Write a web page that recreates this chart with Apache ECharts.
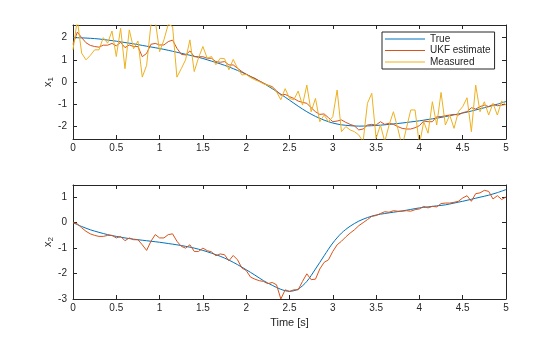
<!DOCTYPE html>
<html>
<head>
<meta charset="utf-8">
<script src="https://cdn.jsdelivr.net/npm/echarts@6/dist/echarts.min.js"></script>
<style>
html,body{margin:0;padding:0;background:#fff;}
#chart{width:560px;height:337px;}
</style>
</head>
<body>
<div id="chart"></div>
<script>
// Sampling grids (seconds)
const tFine = Array.from({length: 101}, (_, i) => +(i * 0.05).toFixed(2));
const tCoarse = Array.from({length: 51}, (_, i) => +(i * 0.1).toFixed(1));

// x1: true state (every 0.1 s)
const x1True = [2.0, 1.99, 1.97, 1.94, 1.89, 1.84, 1.78, 1.72, 1.65, 1.58,
  1.51, 1.43, 1.34, 1.25, 1.16, 1.06, 0.94, 0.82, 0.68, 0.52,
  0.35, 0.15, -0.06, -0.3, -0.55, -0.82, -1.09, -1.34, -1.55, -1.72,
  -1.85, -1.93, -1.97, -1.99, -1.98, -1.96, -1.93, -1.89, -1.85, -1.8,
  -1.75, -1.69, -1.63, -1.56, -1.48, -1.40, -1.31, -1.21, -1.11, -1.0,
  -0.88];

// x1: UKF estimate (every 0.05 s)
const x1Est = [1.7, 2.25, 2.0, 1.77, 1.65, 1.6, 1.57, 1.66, 1.66, 1.74,
  1.63, 1.79, 1.55, 1.67, 1.6, 1.6, 1.14, 1.29, 1.7, 1.74,
  1.67, 1.67, 1.82, 1.89, 1.52, 1.25, 1.22, 1.4, 1.14, 1.14,
  1.14, 1.07, 1.07, 0.92, 0.89, 0.92, 0.77, 0.77, 0.62, 0.47,
  0.35, 0.24, 0.17, 0.05, -0.05, -0.14, -0.21, -0.4, -0.59, -0.56,
  -0.66, -0.74, -0.86, -0.92, -0.96, -1.16, -1.34, -1.46, -1.44, -1.61,
  -1.79, -1.76, -1.71, -1.82, -1.91, -1.98, -2.16, -2.12, -1.94, -1.91,
  -1.94, -1.79, -1.91, -1.86, -1.91, -2.01, -2.09, -2.12, -2.12, -2.06,
  -1.97, -1.76, -1.79, -1.79, -1.56, -1.56, -1.52, -1.49, -1.46, -1.49,
  -1.38, -1.34, -1.16, -1.22, -1.11, -1.04, -1.11, -1.01, -1.07, -1.04,
  -1.01];

// x1: measured (every 0.05 s)
const x1Meas = [1.45, 2.8, 1.3, 1.0, 1.2, 1.45, 1.45, 2.0, 1.75, 2.3,
  1.15, 2.42, 0.6, 2.35, 1.5, 1.85, 0.22, 0.75, 2.6, 2.75,
  1.37, 1.9, 2.6, 2.5, 0.22, 0.6, 1.0, 1.9, 0.47, 1.1,
  1.6, 1.07, 1.15, 0.78, 1.07, 1.05, 0.55, 1.02, 0.62, 0.32,
  0.34, 0.2, 0.1, 0.02, -0.08, -0.15, -0.25, -0.44, -0.8, -0.3,
  -0.74, -0.8, -0.41, -1.04, -0.14, -1.34, -0.74, -1.79, -1.49, -1.79,
  -1.56, -0.36, -2.24, -2.01, -2.16, -2.24, -2.39, -2.69, -0.96, -0.51,
  -2.54, -1.94, -2.69, -1.94, -1.34, -2.09, -2.9, -2.09, -1.26, -1.26,
  -2.84, -1.79, -2.31, -0.89, -1.94, -0.47, -1.94, -1.49, -2.09, -1.34,
  -1.11, -0.71, -2.24, -0.14, -1.34, -0.89, -1.49, -0.96, -1.49, -0.86,
  -1.04];

// x2: true state (every 0.1 s)
const x2True = [0, -0.15, -0.28, -0.38, -0.47, -0.54, -0.6, -0.65, -0.69, -0.73,
  -0.77, -0.82, -0.87, -0.93, -1.0, -1.09, -1.2, -1.32, -1.47, -1.65,
  -1.85, -2.06, -2.28, -2.46, -2.62, -2.7, -2.61, -2.31, -1.82, -1.3,
  -0.8, -0.41, -0.14, 0.06, 0.2, 0.3, 0.36, 0.41, 0.46, 0.52,
  0.58, 0.62, 0.66, 0.7, 0.77, 0.84, 0.92, 1.0, 1.08, 1.18,
  1.3];

// x2: UKF estimate (every 0.05 s)
const x2Est = [0, -0.05, -0.2, -0.34, -0.44, -0.5, -0.54, -0.54, -0.5, -0.5,
  -0.6, -0.54, -0.71, -0.6, -0.67, -0.67, -0.87, -1.09, -0.73, -0.47,
  -0.6, -0.6, -0.47, -0.44, -0.73, -0.93, -1.0, -0.87, -1.13, -1.13,
  -1.0, -1.1, -1.15, -1.3, -1.23, -1.26, -1.5, -1.29, -1.46, -1.78,
  -1.88, -2.14, -2.22, -2.28, -2.31, -2.4, -2.35, -2.44, -3.0, -2.64,
  -2.7, -2.64, -2.64, -2.31, -2.01, -2.24, -2.22, -1.82, -1.56, -1.46,
  -1.13, -0.87, -0.73, -0.56, -0.41, -0.28, -0.12, 0, 0.12, 0.25,
  0.28, 0.36, 0.43, 0.41, 0.47, 0.45, 0.45, 0.47, 0.45, 0.51,
  0.54, 0.64, 0.58, 0.64, 0.62, 0.75, 0.77, 0.77, 0.8, 0.84,
  0.97, 1.06, 0.84, 1.14, 1.17, 1.27, 1.23, 0.93, 1.06, 0.91,
  1.01];

const seriesNames = ['True', 'UKF estimate', 'Measured'];
const colors = ['#0072BD', '#D95319', '#EDB120'];
const xTicks = {min: 0, max: 5, interval: 0.5};
const y1Range = {min: -2.57, max: 2.57};
const y2Range = {min: -3, max: 1.48};

const FONT = '"Liberation Sans", Arial, Helvetica, sans-serif';
const INK = '#262626';

function pairs(t, v) { return v.map((y, i) => [t[i], y]); }

function mkX(grid, pos, labels, name) {
  return {
    type: 'value', gridIndex: grid, position: pos,
    min: xTicks.min, max: xTicks.max, interval: xTicks.interval,
    name: name || '', nameLocation: 'middle', nameGap: 18, nameMoveOverlap: false,
    nameTextStyle: {fontFamily: FONT, fontSize: 11, color: INK},
    axisLine: {show: true, onZero: false, lineStyle: {color: INK, width: 1}},
    axisTick: {show: true, inside: true, length: 4, lineStyle: {color: INK}},
    axisLabel: {show: labels, fontFamily: FONT, fontSize: 10, color: INK, margin: 4},
    splitLine: {show: false}
  };
}
function mkY(grid, pos, labels, range, name, setInterval) {
  const ax = {
    type: 'value', gridIndex: grid, position: pos,
    min: range.min, max: range.max, splitNumber: 5,
    name: name || '', nameLocation: 'middle', nameGap: 18, nameRotate: 90, nameMoveOverlap: false,
    nameTextStyle: {
      fontFamily: FONT, fontSize: 11, color: INK,
      rich: {
        v: {fontFamily: FONT, fontSize: 11, color: INK},
        s: {fontFamily: FONT, fontSize: 8, color: INK, padding: [6, 0, 0, 0]}
      }
    },
    axisLine: {show: true, onZero: false, lineStyle: {color: INK, width: 1}},
    axisTick: {show: true, inside: true, length: 4, lineStyle: {color: INK}},
    axisLabel: {show: labels, fontFamily: FONT, fontSize: 10, color: INK, margin: 6,
      showMinLabel: grid === 1, showMaxLabel: false},
    splitLine: {show: false}
  };
  if (setInterval) ax.interval = 1;
  return ax;
}

const chart = echarts.init(document.getElementById('chart'), null, {renderer: 'canvas'});
const option = {
  animation: false,
  backgroundColor: '#fff',
  grid: [
    {left: 73, top: 25, width: 433, height: 114},
    {left: 73, top: 185, width: 433, height: 114}
  ],
  legend: {
    data: seriesNames,
    orient: 'vertical', left: 382, top: 32,
    backgroundColor: '#fff', borderColor: INK, borderWidth: 1,
    padding: [2, 4, 2, 3], itemGap: 1.5, itemWidth: 40, itemHeight: 10,
    icon: 'path://M0,4.5H40V5.5H0Z',
    textStyle: {fontFamily: FONT, fontSize: 10, color: INK, padding: [0, 0, 0, 0]},
    selectedMode: false
  },
  xAxis: [mkX(0, 'bottom', true), mkX(0, 'top', false), mkX(1, 'bottom', true, 'Time [s]'), mkX(1, 'top', false)],
  yAxis: [
    mkY(0, 'left', true, y1Range, '{v|x}{s|1}', false), mkY(0, 'right', false, y1Range, '', false),
    mkY(1, 'left', true, y2Range, '{v|x}{s|2}', true), mkY(1, 'right', false, y2Range, '', true)
  ],
  series: [
    {name: seriesNames[0], type: 'line', xAxisIndex: 0, yAxisIndex: 0, data: pairs(tCoarse, x1True),
      symbol: 'none', smooth: 0.3, lineStyle: {width: 1, color: colors[0]}, itemStyle: {color: colors[0]}, z: 2},
    {name: seriesNames[1], type: 'line', xAxisIndex: 0, yAxisIndex: 0, data: pairs(tFine, x1Est),
      symbol: 'none', lineStyle: {width: 1, color: colors[1]}, itemStyle: {color: colors[1]}, z: 3},
    {name: seriesNames[2], type: 'line', xAxisIndex: 0, yAxisIndex: 0, data: pairs(tFine, x1Meas),
      symbol: 'none', lineStyle: {width: 1, color: colors[2]}, itemStyle: {color: colors[2]}, z: 4},
    {name: seriesNames[0], type: 'line', xAxisIndex: 2, yAxisIndex: 2, data: pairs(tCoarse, x2True),
      symbol: 'none', smooth: 0.3, lineStyle: {width: 1, color: colors[0]}, itemStyle: {color: colors[0]}, z: 2},
    {name: seriesNames[1], type: 'line', xAxisIndex: 2, yAxisIndex: 2, data: pairs(tFine, x2Est),
      symbol: 'none', lineStyle: {width: 1, color: colors[1]}, itemStyle: {color: colors[1]}, z: 3}
  ]
};
chart.setOption(option);
</script>
</body>
</html>
